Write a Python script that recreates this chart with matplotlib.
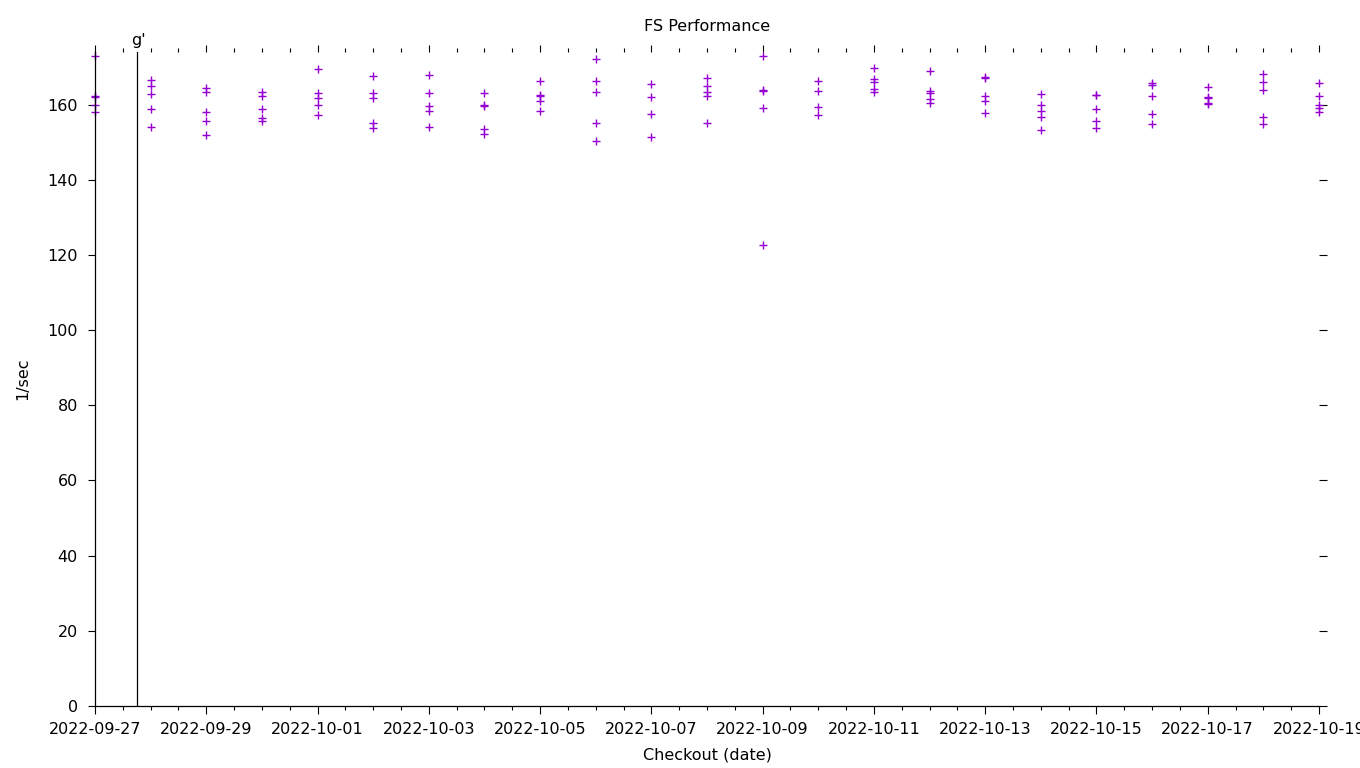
import datetime as dt
import matplotlib
matplotlib.use('Agg')
import matplotlib.pyplot as plt
import matplotlib.dates as mdates

# Checkout dates and measured throughput (1/sec) per checkout
dates = ["2022-09-27", "2022-09-28", "2022-09-29", "2022-09-30", "2022-10-01",
         "2022-10-02", "2022-10-03", "2022-10-04", "2022-10-05", "2022-10-06",
         "2022-10-07", "2022-10-08", "2022-10-09", "2022-10-10", "2022-10-11",
         "2022-10-12", "2022-10-13", "2022-10-14", "2022-10-15", "2022-10-16",
         "2022-10-17", "2022-10-18", "2022-10-19"]
values = [
    [172.9, 162.3, 162.1, 160.0, 157.9],
    [166.4, 164.8, 162.8, 158.7, 153.9],
    [164.3, 163.2, 158.1, 155.7, 151.9],
    [163.2, 162.3, 158.9, 156.3, 155.5],
    [169.5, 163.0, 161.8, 160.0, 157.3],
    [167.6, 163.1, 161.7, 155.0, 153.7],
    [167.9, 163.1, 159.7, 158.2, 153.9],
    [163.1, 160.0, 159.6, 153.4, 152.1],
    [166.3, 162.6, 162.2, 160.9, 158.3],
    [172.1, 166.3, 163.4, 155.1, 150.4],
    [165.5, 161.9, 157.5, 151.4],
    [167.1, 164.8, 163.4, 162.3, 155.1],
    [172.9, 163.9, 163.6, 159.1, 122.7],
    [166.3, 163.6, 159.4, 157.3],
    [169.7, 166.7, 166.1, 164.0, 163.2],
    [168.9, 163.6, 163.0, 161.4, 160.3],
    [167.2, 167.0, 162.2, 161.0, 157.8],
    [162.7, 160.0, 158.3, 156.6, 153.3],
    [162.6, 162.4, 158.8, 155.6, 153.7],
    [165.8, 165.1, 162.3, 157.5, 154.9],
    [164.7, 161.9, 161.7, 160.4, 160.2],
    [168.1, 165.9, 163.8, 156.6, 154.9],
    [165.6, 162.3, 159.9, 159.0, 157.9],
]
marker_time = "2022-09-27 18:00"
marker_label = "g'"

xs = []
ys = []
for d, vals in zip(dates, values):
    for v in vals:
        xs.append(dt.datetime.strptime(d, "%Y-%m-%d"))
        ys.append(v)

plt.rcParams['font.size'] = 11.5
fig = plt.figure(figsize=(13.6, 7.68), dpi=100)
ax = fig.add_axes([95/1360, 62/768, 1224/1360, 654.5/768])

ax.plot(xs, ys, linestyle='none', marker='+', markersize=6,
        markeredgewidth=1.0, color='#9400d3', clip_on=False)

mt = dt.datetime.strptime(marker_time, "%Y-%m-%d %H:%M")
ax.axvline(mt, color='black', linewidth=0.9)
ax.annotate(marker_label, xy=(mt, 1.0), xycoords=('data', 'axes fraction'),
            xytext=(1, 2.5), textcoords='offset points', ha='center', va='bottom')

ax.set_xlim(dt.datetime(2022, 9, 27), dt.datetime(2022, 10, 19))
ax.set_ylim(0, 174.1)
ax.set_yticks(range(0, 161, 20))

ax.xaxis.set_major_locator(mdates.DayLocator(interval=2))
ax.xaxis.set_major_formatter(mdates.DateFormatter('%Y-%m-%d'))
ax.xaxis.set_minor_locator(mdates.HourLocator(byhour=[0, 12]))

for s in ['top', 'right']:
    ax.spines[s].set_visible(False)
for s in ['left', 'bottom']:
    ax.spines[s].set_linewidth(0.9)

ax.tick_params(which='both', direction='out', top=True, right=True, width=0.8)
ax.tick_params(which='major', length=5.4)
ax.tick_params(which='minor', length=2.8)
ax.tick_params(axis='x', which='major', pad=6)
ax.tick_params(axis='y', which='major', pad=7)
ax.tick_params(axis='y', which='minor', left=False, right=False)

ax.set_title("FS Performance", fontsize=11.5, pad=15)
ax.set_xlabel("Checkout (date)", labelpad=7.5)
ax.set_ylabel("1/sec", labelpad=12)

fig.savefig("out.png", dpi=100)
